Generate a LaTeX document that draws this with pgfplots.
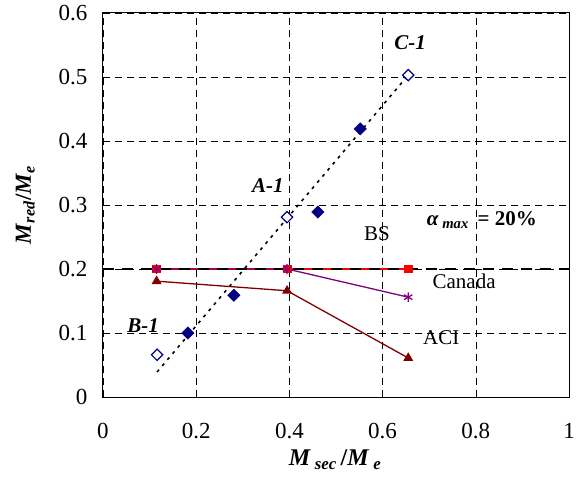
\documentclass[border=0pt]{standalone}
\usepackage{fontspec}
\setmainfont{Liberation Serif}
\usepackage{pgfplots}
\pgfplotsset{compat=1.18}
\definecolor{navyd}{RGB}{0,0,128}
\definecolor{bsred}{RGB}{255,0,0}
\definecolor{canpur}{RGB}{128,0,128}
\definecolor{acired}{RGB}{128,0,0}
\begin{document}
\begin{tikzpicture}
\begin{axis}[
  scale only axis,
  width=466pt, height=384pt,
  xmin=0, xmax=1, ymin=0, ymax=0.6,
  xtick={0,0.2,...,1}, ytick={0,0.1,...,0.6},
  major tick length=0pt,
  /pgf/number format/assume math mode=true,
  ticklabel style={font=\fontsize{23}{26}\selectfont},
  xticklabel style={yshift=-23pt},
  yticklabel style={xshift=-12pt},
  grid=major,
  grid style={black, line width=0.6pt, dash pattern=on 7pt off 5pt},
  axis line style={black, line width=1pt},
  xlabel={\textbf{\textit{M}\,\textsubscript{\textit{sec}}\,/\textit{M}\,\textsubscript{\textit{e}}}},
  ylabel={\textbf{\textit{M}\textsubscript{\textit{red}}/\textit{M}\textsubscript{\textit{e}}}},
  xlabel style={font=\fontsize{24}{26}\selectfont, at={(axis description cs:0.498,-0.164)}, anchor=center},
  ylabel style={font=\fontsize{23}{26}\selectfont, at={(axis description cs:-0.167,0.5)}, anchor=center},
]
% trend line through test points
\addplot[black, line width=1.6pt, dash pattern=on 3pt off 5pt] coordinates {(0.116,0.039) (0.655,0.503)};
% BS
\addplot[bsred, line width=1.3pt, mark=square*, mark size=3.8pt, mark options={solid, fill=bsred}]
  coordinates {(0.115,0.2) (0.395,0.2) (0.655,0.2)};
% Canada
\addplot[canpur, line width=1.3pt, mark=asterisk, mark size=4.8pt, mark options={solid, line width=1.3pt}]
  coordinates {(0.115,0.2) (0.395,0.2) (0.655,0.156)};
% ACI
\addplot[acired, line width=1.3pt, mark=triangle*, mark size=4.4pt, mark options={solid, fill=acired}]
  coordinates {(0.115,0.181) (0.395,0.166) (0.655,0.061)};
% alpha max = 20%
\addplot[black, line width=2.8pt, dash pattern=on 11pt off 8pt] coordinates {(0,0.2) (1,0.2)};
% measured (filled)
\addplot[only marks, mark=square*, mark size=4.4pt, mark options={rotate=45, fill=navyd, draw=navyd}]
  coordinates {(0.182,0.100) (0.281,0.159) (0.461,0.289) (0.552,0.419)};
% open diamonds
\addplot[only marks, mark=square*, mark size=4pt, mark options={rotate=45, fill=white, draw=navyd, line width=1.2pt}]
  coordinates {(0.116,0.066) (0.395,0.281) (0.655,0.503)};
\node[font=\fontsize{21}{24}\selectfont\bfseries\itshape] at (axis cs:0.659,0.553) {C-1};
\node[font=\fontsize{21}{24}\selectfont\bfseries\itshape] at (axis cs:0.354,0.331) {A-1};
\node[font=\fontsize{21}{24}\selectfont\bfseries\itshape] at (axis cs:0.086,0.111) {B-1};
\node[font=\fontsize{21}{24}\selectfont] at (axis cs:0.588,0.256) {BS};
\node[font=\fontsize{21}{24}\selectfont] at (axis cs:0.775,0.180) {Canada};
\node[font=\fontsize{21}{24}\selectfont] at (axis cs:0.726,0.092) {ACI};
\node[font=\fontsize{21}{24}\selectfont\bfseries] at (axis cs:0.813,0.276) {\textit{α}\,\textsubscript{\textit{max}}\, = 20\%};
\end{axis}
\pgfresetboundingbox
\path (current axis.south west) ++(-103pt,-82pt) rectangle ([shift={(9pt,13pt)}]current axis.north east);
\end{tikzpicture}
\end{document}
